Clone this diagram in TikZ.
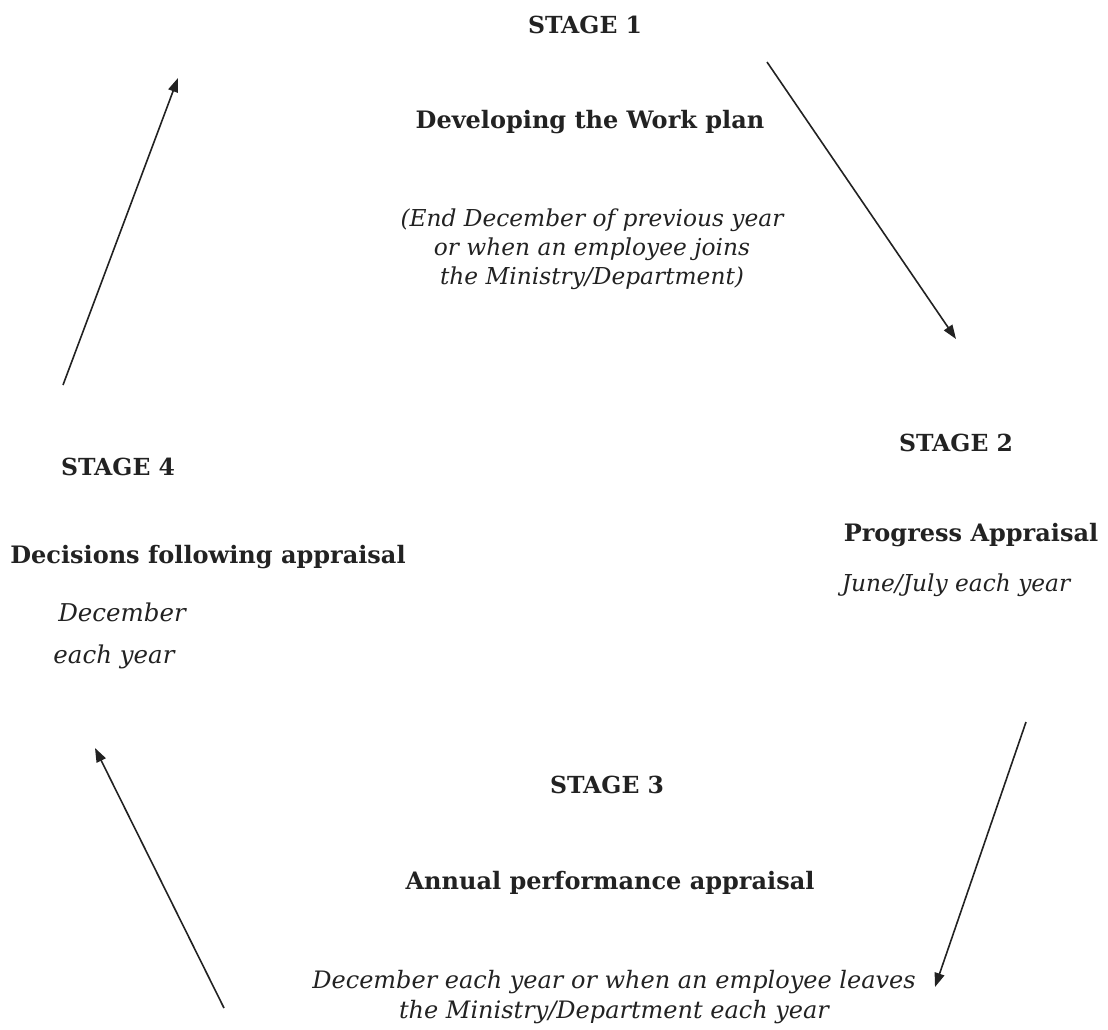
\documentclass[tikz,border=0pt]{standalone}
\usepackage{fontspec}
\setmainfont{DejaVu Serif}
\usetikzlibrary{arrows.meta}
\definecolor{ink}{HTML}{222222}
\begin{document}
\begin{tikzpicture}[x=1pt,y=-1pt,
  stagelbl/.style={font=\fontsize{23.5}{28}\selectfont\bfseries, text=ink, inner sep=0pt},
  titlelbl/.style={font=\fontsize{24}{29}\selectfont\bfseries, text=ink, inner sep=0pt},
  datelbl/.style={font=\fontsize{23.3}{29}\selectfont\itshape, text=ink, inner sep=0pt, align=center},
  flow/.style={draw=ink, line width=1.6pt, -{Triangle[length=14pt,width=10pt]}}]
\useasboundingbox (0,0) rectangle (1108,1030);
% Stage 1
\node[stagelbl] (s1) at (585,25) {STAGE 1};
\node[titlelbl] (t1) at (590,122) {Developing the Work plan};
\node[datelbl] (d1) at (592,249) {(End December of previous year\\or when an employee joins\\the Ministry/Department)};
% Stage 2
\node[stagelbl] (s2) at (956,443) {STAGE 2};
\node[titlelbl] (t2) at (971,535) {Progress Appraisal};
\node[datelbl] (d2) at (956,585) {June/July each year};
% Stage 3
\node[stagelbl] (s3) at (607,785) {STAGE 3};
\node[titlelbl] (t3) at (610,883) {Annual performance appraisal};
\node[datelbl, font=\fontsize{24}{30}\selectfont\itshape] (d3) at (614,997) {December each year or when an employee leaves\\the Ministry/Department each year};
% Stage 4
\node[stagelbl] (s4) at (118,467) {STAGE 4};
\node[titlelbl] (t4) at (208,557) {Decisions following appraisal};
\node[datelbl, font=\fontsize{24.5}{29}\selectfont\itshape] (d4a) at (122,612) {December};
\node[datelbl, font=\fontsize{24.5}{29}\selectfont\itshape] (d4b) at (114,657) {each year};
% arrow ends
\coordinate (a1s) at (767,62);
\coordinate (a1e) at (956,339);
\coordinate (a2s) at (1026,722);
\coordinate (a2e) at (935,987);
\coordinate (a3s) at (224,1008);
\coordinate (a3e) at (95,748);
\coordinate (a4s) at (63,385);
\coordinate (a4e) at (178,78);
\draw[flow] (a1s) -- (a1e);
\draw[flow] (a2s) -- (a2e);
\draw[flow] (a3s) -- (a3e);
\draw[flow] (a4s) -- (a4e);
\end{tikzpicture}
\end{document}
